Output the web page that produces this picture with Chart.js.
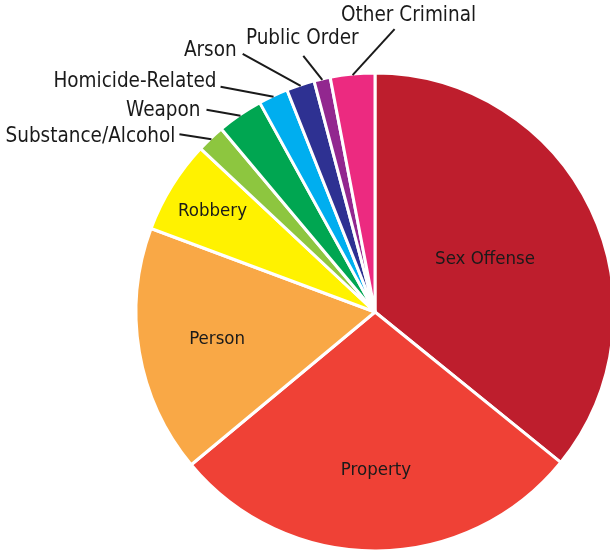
<!DOCTYPE html>
<html>
<head>
<meta charset="utf-8">
<script src="https://cdn.jsdelivr.net/npm/chart.js@4/dist/chart.umd.min.js"></script>
<style>
  html, body { margin: 0; padding: 0; background: #fff; overflow: hidden; }
  #wrap { position: relative; width: 610px; height: 550px; overflow: hidden; }
  #pie { position: absolute; left: 0; top: 0; }
</style>
</head>
<body>
<div id="wrap"><canvas id="pie" width="750" height="624"></canvas></div>
<script>
const categories = ["Sex Offense", "Property", "Person", "Robbery", "Substance/Alcohol",
                    "Weapon", "Homicide-Related", "Arson", "Public Order", "Other Criminal"];
const shares = [35.8, 28.1, 16.7, 6.3, 1.9, 3.1, 2.0, 1.9, 1.1, 3.0];
const sliceColors = ["#BE1E2D", "#EF4136", "#F9A846", "#FFF200", "#8DC63F",
                     "#00A651", "#00AEEF", "#2E3192", "#92278F", "#EC2A80"];

const FAMILY = '"DejaVu Sans Condensed", "DejaVu Sans", sans-serif';
const INNER_FONT = "18.5px " + FAMILY;
const OUTER_FONT = "20.5px " + FAMILY;

// labels drawn inside their slice, at a fraction of the radius
const inside = { "Sex Offense": 0.51, "Property": 0.66, "Person": 0.67, "Robbery": 0.80 };

// small slices get a leader line out from the rim; elbow = end offset, txt = text offset
const leaders = {
  "Substance/Alcohol": { elbow: [-32, -5],  txt: [-4, 3],   align: "right" },
  "Weapon":            { elbow: [-34, -6],  txt: [-6, 1],   align: "right" },
  "Homicide-Related":  { elbow: [-53, -10], txt: [-4, -5],  align: "right" },
  "Arson":             { elbow: [-58, -32], txt: [-6, -3],  align: "right" },
  "Public Order":      { elbow: [-19, -24], txt: [-1, -17], align: "center" },
  "Other Criminal":    { elbow: [42, -46],  txt: [14, -13], align: "center" }
};

const labelPlugin = {
  id: "sliceLabels",
  afterDatasetsDraw(chart) {
    const ctx = chart.ctx;
    const meta = chart.getDatasetMeta(0);
    ctx.save();
    ctx.fillStyle = "#1a1a1a";
    ctx.strokeStyle = "#1a1a1a";
    ctx.lineWidth = 2;
    ctx.textBaseline = "middle";
    meta.data.forEach((arc, i) => {
      const name = categories[i];
      const p = arc.getProps(["x", "y", "startAngle", "endAngle", "outerRadius"], true);
      const mid = (p.startAngle + p.endAngle) / 2;
      if (inside[name]) {
        const r = p.outerRadius * inside[name];
        ctx.font = INNER_FONT;
        ctx.textAlign = "center";
        ctx.fillText(name, p.x + r * Math.cos(mid), p.y + r * Math.sin(mid));
        return;
      }
      const l = leaders[name];
      if (!l) return;
      const rx = p.x + (p.outerRadius - 1) * Math.cos(mid);
      const ry = p.y + (p.outerRadius - 1) * Math.sin(mid);
      const ex = rx + l.elbow[0], ey = ry + l.elbow[1];
      ctx.beginPath();
      ctx.moveTo(rx, ry);
      ctx.lineTo(ex, ey);
      ctx.stroke();
      ctx.font = OUTER_FONT;
      ctx.textAlign = l.align;
      ctx.fillText(name, ex + l.txt[0], ey + l.txt[1]);
    });
    ctx.restore();
  }
};

new Chart(document.getElementById("pie"), {
  type: "pie",
  data: {
    labels: categories,
    datasets: [{
      data: shares,
      backgroundColor: sliceColors,
      borderColor: "#ffffff",
      borderWidth: 3
    }]
  },
  options: {
    responsive: false,
    devicePixelRatio: 1,
    animation: false,
    radius: 239,
    layout: { padding: 0 },
    plugins: {
      legend: { display: false },
      tooltip: { enabled: false }
    }
  },
  plugins: [labelPlugin]
});
</script>
</body>
</html>
